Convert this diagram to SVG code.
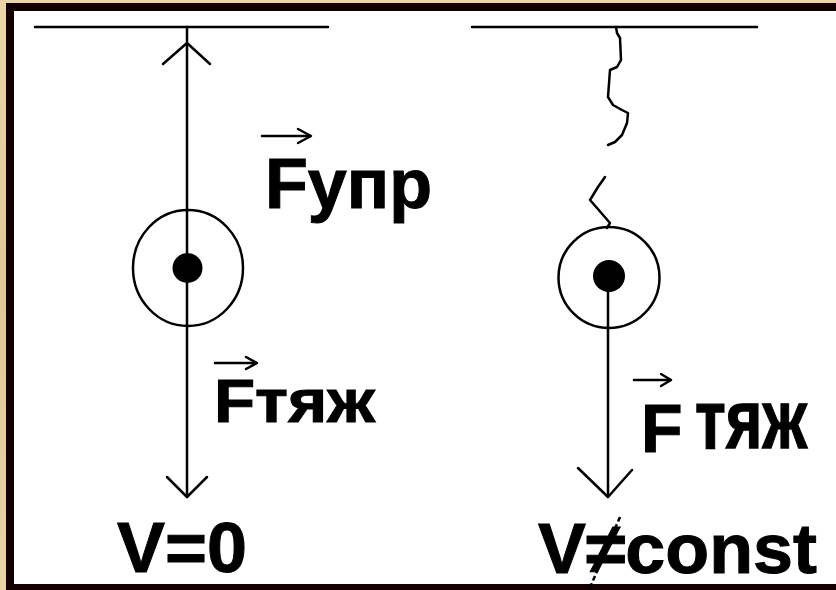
<svg xmlns="http://www.w3.org/2000/svg" width="836" height="590" viewBox="0 0 836 590">
<style>
.ln{stroke:#000;fill:none;stroke-width:2.5;stroke-linecap:round;stroke-linejoin:round}
.txt{font-family:"Liberation Sans",Arial,sans-serif;font-weight:bold;fill:#000;stroke:#000;stroke-width:1}
</style>
<defs>
<linearGradient id="bg" x1="0" y1="0" x2="0" y2="1">
<stop offset="0" stop-color="#ecd6a8"/><stop offset="0.5" stop-color="#e2c796"/><stop offset="1" stop-color="#ead3a4"/>
</linearGradient>
</defs>
<rect x="0" y="0" width="836" height="590" fill="url(#bg)"/>
<rect x="6" y="3" width="830" height="587" fill="#130000"/>
<rect x="14" y="11" width="822" height="573" fill="#ffffff"/>

<g id="left-scene">
<line class="ln" x1="35" y1="27" x2="328" y2="27" stroke-width="3"/>
<ellipse class="ln" cx="188" cy="268" rx="55" ry="58"/>
<circle cx="187.5" cy="268" r="15" fill="#000"/>
</g>
<g id="right-scene">
<line class="ln" x1="472" y1="27" x2="757" y2="27" stroke-width="3"/>
<polyline class="ln" points="616,27 617,33 620,38 621,60 617,67 610,70 608,97 613,105 622,110 628,113 627,123 622,135 615,142 608,145"/>
<polyline class="ln" points="605,177 598,187 590,200 597,208 610,223 607,228"/>
<circle class="ln" cx="609" cy="277.5" r="50.5"/>
<circle cx="609" cy="276" r="16" fill="#000"/>
</g>

<g id="connectors">
<line class="ln" x1="187" y1="27" x2="187" y2="497"/>
<polyline class="ln" points="163,64 187,43 210,64"/>
<polyline class="ln" points="167,477 187,497 207,477"/>
<line class="ln" x1="608" y1="277" x2="608" y2="497"/>
<polyline class="ln" points="578,468 608,497 632,470"/>
</g>

<g id="label-fupr">
<line class="ln" x1="262" y1="136" x2="310" y2="136" stroke-width="3"/>
<polyline class="ln" points="298,129 311,136 298,143" stroke-width="3"/>
<text class="txt" x="265" y="208" font-size="70" textLength="167" lengthAdjust="spacingAndGlyphs">Fупр</text>
</g>
<g id="label-ftyazh-left">
<line class="ln" x1="215" y1="363" x2="256" y2="363" stroke-width="3"/>
<polyline class="ln" points="246,357 257,363 246,369" stroke-width="3"/>
<text class="txt" x="214" y="422" font-size="62" textLength="161" lengthAdjust="spacingAndGlyphs">Fтяж</text>
</g>
<g id="label-ftyazh-right">
<line class="ln" x1="634" y1="380" x2="670" y2="380" stroke-width="3"/>
<polyline class="ln" points="661,374 671,380 661,386" stroke-width="3"/>
<text class="txt" x="641" y="452" font-size="68">F</text>
<text class="txt" transform="translate(695,448) scale(1,1.25)" x="0" y="0" font-size="66" textLength="112" lengthAdjust="spacingAndGlyphs">тяж</text>
</g>
<g id="label-v0">
<text class="txt" x="117" y="572" font-size="71" textLength="130" lengthAdjust="spacingAndGlyphs">V=0</text>
</g>
<g id="label-vconst">
<text class="txt" x="538" y="573" font-size="71" textLength="279" lengthAdjust="spacingAndGlyphs">V≠const</text>
<line x1="620" y1="517" x2="589" y2="590" stroke="#000" stroke-width="2.5" stroke-dasharray="5,3"/>
</g>
</svg>
